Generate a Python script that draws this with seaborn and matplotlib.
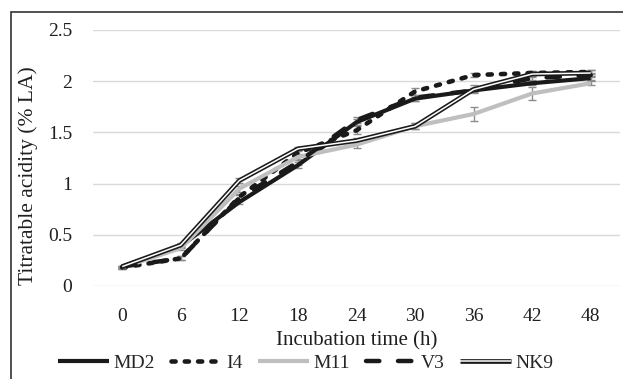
import matplotlib
matplotlib.use("Agg")
import matplotlib.pyplot as plt
import matplotlib.patheffects as pe
from matplotlib.patches import Rectangle
import seaborn as sns
import pandas as pd

# ---- data ----
times = [0, 6, 12, 18, 24, 30, 36, 42, 48]
md2 = [0.19, 0.39, 0.82, 1.18, 1.60, 1.83, 1.91, 1.98, 2.03]
i4 = [0.18, 0.27, 0.87, 1.30, 1.52, 1.90, 2.06, 2.08, 2.09]
m11 = [0.18, 0.37, 0.95, 1.26, 1.38, 1.56, 1.68, 1.88, 1.98]
v3 = [0.19, 0.27, 0.86, 1.21, 1.62, 1.84, 1.91, 2.03, 2.06]
nk9 = [0.19, 0.40, 1.03, 1.34, 1.42, 1.56, 1.92, 2.07, 2.08]

md2_err = [0.01, 0.02, 0.02, 0.03, 0.03, 0.02, 0.02, 0.02, 0.02]
i4_err = [0.01, 0.02, 0.03, 0.03, 0.04, 0.03, 0.02, 0.02, 0.02]
m11_err = [0.01, 0.02, 0.03, 0.03, 0.03, 0.03, 0.07, 0.06, 0.02]
v3_err = [0.01, 0.02, 0.03, 0.03, 0.03, 0.03, 0.02, 0.02, 0.02]
nk9_err = [0.01, 0.02, 0.02, 0.02, 0.03, 0.03, 0.04, 0.03, 0.03]

series_names = ["MD2", "I4", "M11", "V3", "NK9"]
y_ticks = [0, 0.5, 1, 1.5, 2, 2.5]
y_tick_labels = ["0", "0.5", "1", "1.5", "2", "2.5"]
x_label = "Incubation time (h)"
y_label = "Titratable acidity (% LA)"

values = {"MD2": md2, "I4": i4, "M11": m11, "V3": v3, "NK9": nk9}
errors = {"MD2": md2_err, "I4": i4_err, "M11": m11_err, "V3": v3_err, "NK9": nk9_err}

df = pd.DataFrame(
    [(t, v, name) for name in series_names for t, v in zip(times, values[name])],
    columns=["time", "value", "series"],
)

# ---- style ----
sns.set_theme(style="white")
plt.rcParams["font.family"] = ["Liberation Serif", "DejaVu Serif"]
FS = 14
TXT = "#1f1f1f"

fig = plt.figure(figsize=(6.23, 3.79), dpi=100)
ax = fig.add_axes([93 / 623, 93 / 379, 527 / 623, 256 / 379])

styles = {
    "MD2": dict(color="#1a1a1a", lw=3.0, ls="-"),
    "I4": dict(color="#1a1a1a", lw=3.3, ls=(0, (0.9, 2.0))),
    "M11": dict(color="#bfbfbf", lw=3.0, ls="-"),
    "V3": dict(color="#1a1a1a", lw=3.2, ls=(0, (3.0, 4.2))),
    "NK9": dict(color="white", lw=1.1, ls="-"),
}

# error bars
for name in series_names:
    ax.errorbar(times, values[name], yerr=errors[name], fmt="none",
                ecolor="#8c8c8c", elinewidth=1.0, capsize=3, capthick=1.0,
                zorder=2)

handles = []
for i, name in enumerate(series_names):
    sub = df[df["series"] == name]
    st = styles[name]
    sns.lineplot(data=sub, x="time", y="value", ax=ax, color=st["color"],
                 linewidth=st["lw"], label=name, zorder=3 + i, clip_on=False)
    line = ax.get_lines()[-1]
    line.set_linestyle(st["ls"])
    line.set_dash_capstyle("round")
    line.set_solid_capstyle("butt")
    line.set_solid_joinstyle("round")
    if name == "NK9":
        line.set_path_effects([pe.Stroke(linewidth=3.4, foreground="#1a1a1a"),
                               pe.Normal()])
    handles.append(line)

if ax.get_legend() is not None:
    ax.get_legend().remove()

ax.set_xlim(-3, 51)
ax.set_ylim(0, 2.5)
ax.set_xticks(times)
ax.set_xticklabels([str(t) for t in times], fontsize=FS, color=TXT)
ax.set_yticks(y_ticks)
ax.set_yticklabels(y_tick_labels, fontsize=FS, color=TXT)
ax.tick_params(axis="x", length=0, pad=16)
ax.tick_params(axis="y", length=0, pad=15)
ax.grid(axis="y", color="#d9d9d9", lw=1.0)
ax.grid(axis="x", visible=False)
for s in ax.spines.values():
    s.set_visible(False)
ax.set_axisbelow(True)

ax.set_xlabel(x_label, fontsize=15, color=TXT, va="center")
ax.xaxis.set_label_coords(0.5, -0.215)
ax.set_ylabel(y_label, fontsize=15.5, color=TXT, va="center")
ax.yaxis.set_label_coords(-0.123, 0.43)

fig.legend(handles=handles, labels=series_names, loc="center",
           bbox_to_anchor=(306 / 623, 1 - 363 / 379), ncol=5, frameon=False,
           fontsize=FS, handlelength=2.6, handletextpad=0.25,
           columnspacing=0.8, borderpad=0, borderaxespad=0)

# outer frame (cropped on right and bottom)
fig.patches.append(Rectangle((11 / 623, -0.5), 2.0, 0.5 + 1 - 12 / 379,
                             transform=fig.transFigure, fill=False,
                             edgecolor="#333333", lw=1.2, zorder=10))

fig.savefig("out.png", dpi=100, facecolor="white")
